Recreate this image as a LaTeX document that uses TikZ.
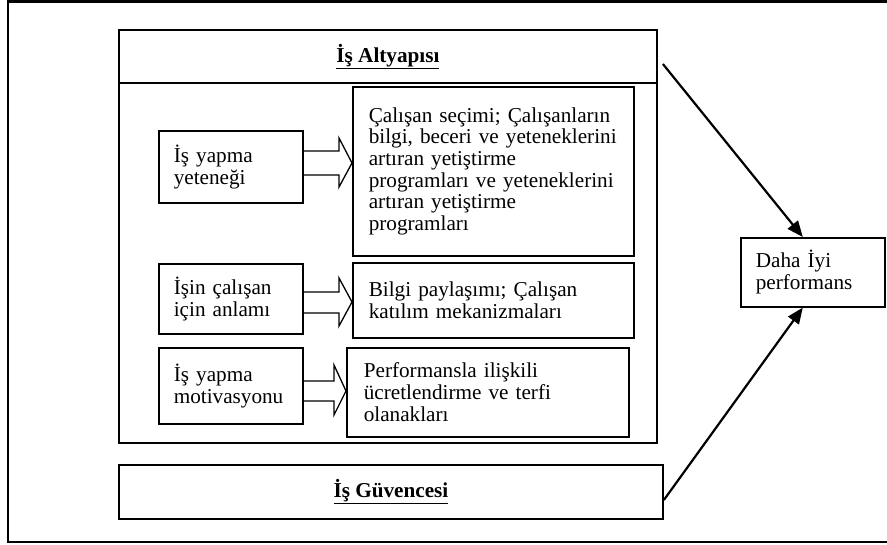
\documentclass[tikz,border=0pt]{standalone}
\usepackage{fontspec}
\setmainfont{Liberation Serif}
\usetikzlibrary{arrows.meta,calc}
\newcommand{\dgfont}{\fontsize{21.2}{21.7}\selectfont}
\begin{document}
\begin{tikzpicture}[x=1pt,y=-1pt,
  frame/.style={line width=2.2pt},
  bigbox/.style={draw, line width=1.9pt, anchor=north west, inner sep=0pt, font=\dgfont\bfseries, align=center},
  box/.style={draw, line width=1.6pt, anchor=north west, align=left,
              inner xsep=15pt, inner ysep=0pt, font=\dgfont},
  blk/.style={line width=1.3pt, line join=miter},
  conn/.style={line width=2.2pt, -{Triangle[length=16pt,width=13pt]}}
]
\useasboundingbox (0,0) rectangle (887,545);
\clip (0,0) rectangle (887,545);

% outer frame (its right side runs past the page edge)
\draw[frame] (8,1.5) rectangle (900,542);

% İş Altyapısı: header and body
\node[bigbox, minimum width=538pt, minimum height=53pt] (alt) at (118,29) {\underline{İş Altyapısı}};
\node[bigbox, minimum width=538pt, minimum height=360pt] (altbody) at (118,82) {};

% left column
\node[box, minimum width=144pt, minimum height=72pt, text width=114pt] (a1) at (158,130)
  {İş yapma\\yeteneği};
\node[box, minimum width=144pt, minimum height=70pt, text width=114pt] (a2) at (158,263)
  {İşin çalışan\\için anlamı};
\node[box, minimum width=144pt, minimum height=76pt, text width=114pt] (a3) at (158,347)
  {İş yapma\\motivasyonu};

% right column
\node[box, inner xsep=16pt, minimum width=281pt, minimum height=169pt, text width=249pt] (r1) at (352,86)
  {Çalışan seçimi; Çalışanların\\bilgi, beceri ve yeteneklerini\\artıran yetiştirme\\programları ve yeteneklerini\\artıran yetiştirme\\programları};
\node[box, inner xsep=16pt, minimum width=281pt, minimum height=75pt, text width=249pt] (r2) at (352,262)
  {Bilgi paylaşımı; Çalışan\\katılım mekanizmaları};
\node[box, inner xsep=17pt, minimum width=282pt, minimum height=89pt, text width=248pt] (r3) at (346,347)
  {Performansla ilişkili\\ücretlendirme ve terfi\\olanakları};

% hollow block arrows
\draw[blk] (a1.east |- 0,151) -- (339,151) -- (339,138) -- (r1.west |- 0,163)
  -- (339,187) -- (339,175) -- (a1.east |- 0,175);
\draw[blk] (a2.east |- 0,292) -- (339,292) -- (339,278) -- (r2.west |- 0,302)
  -- (339,326) -- (339,313) -- (a2.east |- 0,313);
\draw[blk] (a3.east |- 0,381) -- (334,381) -- (334,365) -- (r3.west |- 0,391)
  -- (334,415) -- (334,401) -- (a3.east |- 0,401);

% İş Güvencesi
\node[bigbox, minimum width=544pt, minimum height=54pt] (gv) at (118,464) {\underline{İş Güvencesi}};

% outcome
\node[box, minimum width=144pt, minimum height=69pt, text width=114pt] (daha) at (740,237)
  {Daha İyi\\performans};

% connectors
\coordinate (s1) at ($(alt.north east)+(5,35)$);
\coordinate (s2) at ($(gv.east)+(0,8)$);
\draw[conn] (s1) -- ($(daha.north)+(-10,0)$);
\draw[conn] (s2) -- ($(daha.south)+(-10,0)$);
\end{tikzpicture}
\end{document}
